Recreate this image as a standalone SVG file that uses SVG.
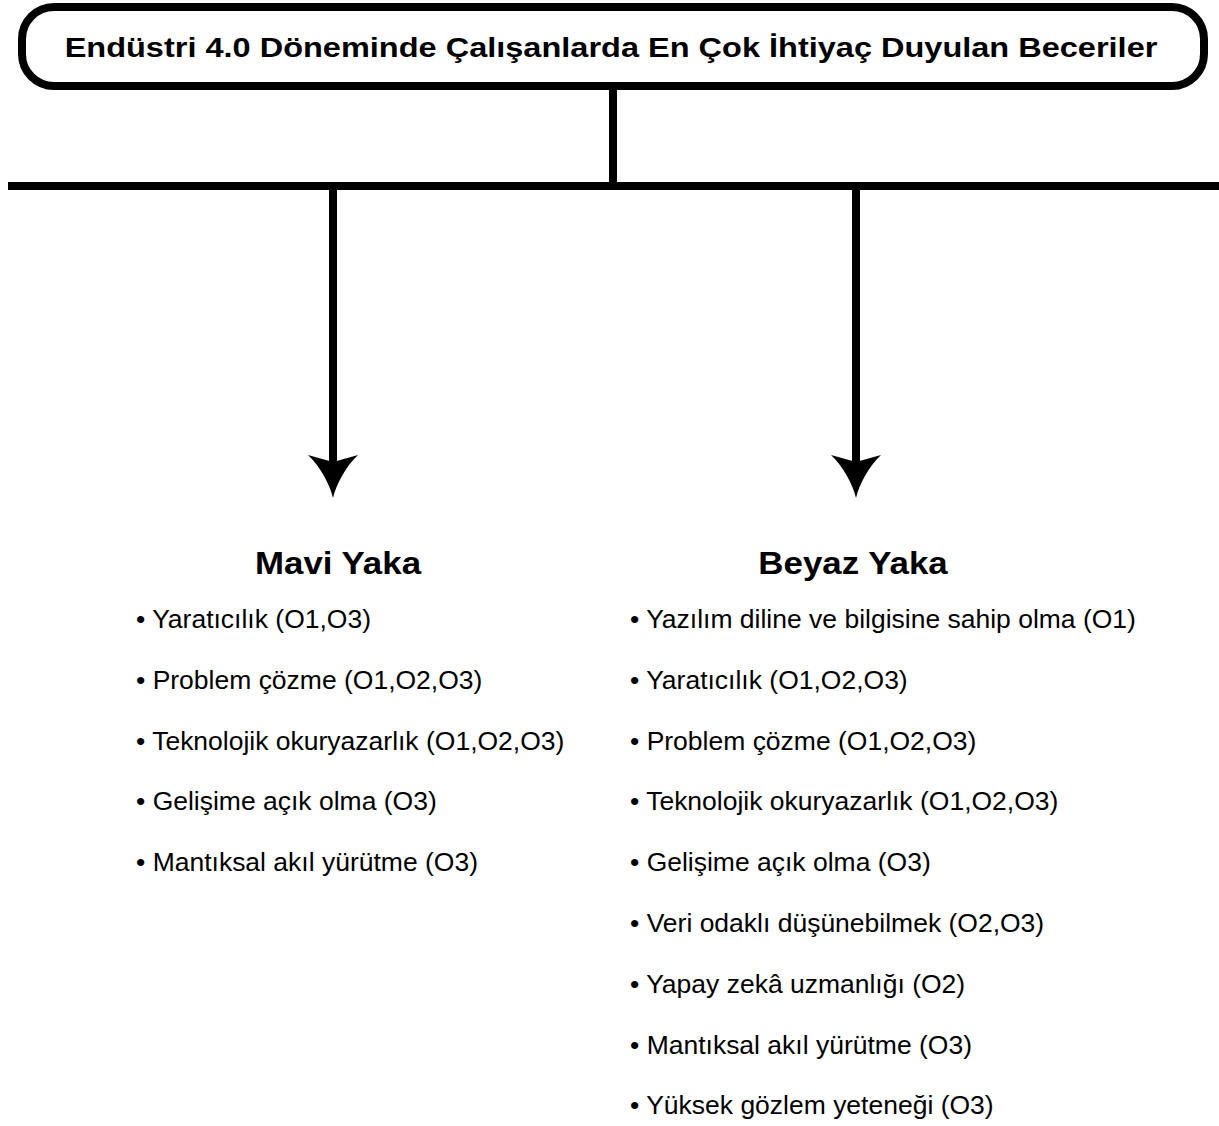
<svg xmlns="http://www.w3.org/2000/svg" width="1219" height="1126" viewBox="0 0 1219 1126">
  <style>
    .title { font-family: "Liberation Sans", Arial, sans-serif; font-weight: bold; font-size: 27px; fill: #000; text-anchor: middle; }
    .head { font-family: "Liberation Sans", Arial, sans-serif; font-weight: bold; font-size: 30.5px; fill: #000; text-anchor: middle; }
    .item { font-family: "Liberation Sans", Arial, sans-serif; font-size: 25px; fill: #000; }
    .line { stroke: #000; stroke-width: 8; fill: none; }
    .head-arrow { fill: #000; }
  </style>
  <defs>
    <!-- concave downward arrowhead, tip at origin -->
    <path id="arrow-head" d="M0 0 C-3 -13 -13 -32 -25 -43 L0 -36 L25 -43 C13 -32 3 -13 0 0 Z"/>
  </defs>

  <!-- title box -->
  <g id="title">
    <rect x="22" y="7" width="1182" height="79" rx="32" ry="32" fill="#fff" stroke="#000" stroke-width="8"/>
    <text class="title" transform="translate(611,57) scale(1.204,1)">Endüstri 4.0 Döneminde Çalışanlarda En Çok İhtiyaç Duyulan Beceriler</text>
  </g>

  <!-- connectors -->
  <g id="connectors">
    <line class="line" x1="613" y1="88" x2="613" y2="186"/>
    <line class="line" x1="8" y1="186" x2="1219" y2="186"/>
    <line class="line" x1="333" y1="186" x2="333" y2="466"/>
    <line class="line" x1="856" y1="186" x2="856" y2="466"/>
    <use href="#arrow-head" class="head-arrow" x="333" y="498"/>
    <use href="#arrow-head" class="head-arrow" x="856" y="498"/>
  </g>

  <!-- blue collar column -->
  <g id="mavi-yaka">
    <text class="head" transform="translate(338,573.5) scale(1.143,1)">Mavi Yaka</text>
    <g transform="translate(136,0) scale(1.06,1)">
      <text class="item" x="0" y="628">• Yaratıcılık (O1,O3)</text>
      <text class="item" x="0" y="689">• Problem çözme (O1,O2,O3)</text>
      <text class="item" x="0" y="750">• Teknolojik okuryazarlık (O1,O2,O3)</text>
      <text class="item" x="0" y="810">• Gelişime açık olma (O3)</text>
      <text class="item" x="0" y="871">• Mantıksal akıl yürütme (O3)</text>
    </g>
  </g>

  <!-- white collar column -->
  <g id="beyaz-yaka">
    <text class="head" transform="translate(853,573.5) scale(1.143,1)">Beyaz Yaka</text>
    <g transform="translate(630,0) scale(1.06,1)">
      <text class="item" x="0" y="628">• Yazılım diline ve bilgisine sahip olma (O1)</text>
      <text class="item" x="0" y="689">• Yaratıcılık (O1,O2,O3)</text>
      <text class="item" x="0" y="750">• Problem çözme (O1,O2,O3)</text>
      <text class="item" x="0" y="810">• Teknolojik okuryazarlık (O1,O2,O3)</text>
      <text class="item" x="0" y="871">• Gelişime açık olma (O3)</text>
      <text class="item" x="0" y="932">• Veri odaklı düşünebilmek (O2,O3)</text>
      <text class="item" x="0" y="993">• Yapay zekâ uzmanlığı (O2)</text>
      <text class="item" x="0" y="1054">• Mantıksal akıl yürütme (O3)</text>
      <text class="item" x="0" y="1114">• Yüksek gözlem yeteneği (O3)</text>
    </g>
  </g>
</svg>
